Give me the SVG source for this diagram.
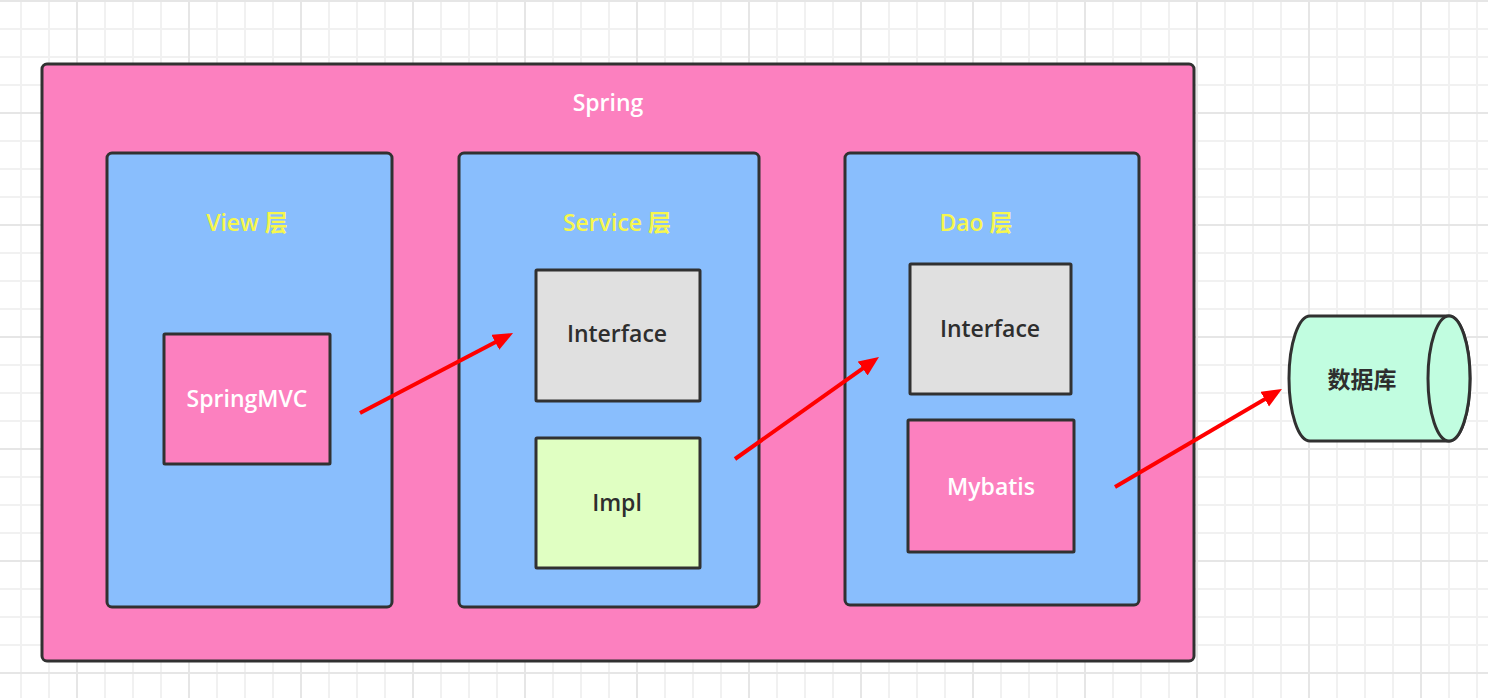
<svg xmlns="http://www.w3.org/2000/svg" width="1488" height="698" viewBox="0 0 1488 698">
<style>
.box{stroke:#313131;stroke-width:3}
.txt{font-family:"Open Sans","Noto Sans","Noto Sans CJK SC",sans-serif;font-size:23px;font-weight:600;text-anchor:middle}
.w{fill:#ffffff}
.y{fill:#f7f74e}
.d{fill:#2e2e2e}
.arrow{stroke:#ff0000;stroke-width:4;fill:none}
</style>
<defs>
<pattern id="minor" patternUnits="userSpaceOnUse" x="20" y="0" width="28" height="28">
<path d="M1,0V28M0,1H28" stroke="#f1f1f1" stroke-width="2" fill="none"/>
</pattern>
<pattern id="major" patternUnits="userSpaceOnUse" x="76" y="0" width="112" height="112">
<path d="M1,0V112M0,1H112" stroke="#e6e6e6" stroke-width="2" fill="none"/>
</pattern>
<marker id="ah" markerUnits="userSpaceOnUse" markerWidth="22" markerHeight="19" refX="8" refY="8.5" orient="auto">
<path d="M0,0L20,8.5L0,17Z" fill="#ff0000"/>
</marker>
</defs>
<rect width="1488" height="698" fill="#ffffff"/>
<rect width="1488" height="698" fill="url(#minor)"/>
<rect width="1488" height="698" fill="url(#major)"/>

<g id="spring">
<rect class="box" x="42" y="64" width="1152" height="597" rx="5" fill="#fc80bf"/>
<text class="txt w" x="608" y="111">Spring</text>
</g>
<g id="view-layer">
<rect class="box" x="107" y="153" width="285" height="454" rx="5" fill="#89befd"/>
<text class="txt y" x="247" y="231">View 层</text>
</g>
<g id="service-layer">
<rect class="box" x="459" y="153" width="300" height="454" rx="5" fill="#89befd"/>
<text class="txt y" x="617" y="231">Service 层</text>
</g>
<g id="dao-layer">
<rect class="box" x="845" y="153" width="294" height="452" rx="5" fill="#89befd"/>
<text class="txt y" x="976" y="231">Dao 层</text>
</g>
<g id="springmvc">
<rect class="box" x="164" y="334" width="166" height="130" rx="1" fill="#fc80bf"/>
<text class="txt w" x="247" y="407">SpringMVC</text>
</g>
<g id="service-interface">
<rect class="box" x="536" y="270" width="164" height="131" rx="1" fill="#e0e0e0"/>
<text class="txt d" x="617" y="342">Interface</text>
</g>
<g id="impl">
<rect class="box" x="536" y="438" width="164" height="130" rx="1" fill="#e0ffc2"/>
<text class="txt d" x="617" y="511">Impl</text>
</g>
<g id="dao-interface">
<rect class="box" x="910" y="264" width="161" height="130" rx="1" fill="#e0e0e0"/>
<text class="txt d" x="990" y="337">Interface</text>
</g>
<g id="mybatis">
<rect class="box" x="908" y="420" width="166" height="132" rx="1" fill="#fc80bf"/>
<text class="txt w" x="991" y="495">Mybatis</text>
</g>
<g id="database">
<path class="box" d="M1310,316L1449,316A21,62.5 0 0 1 1449,441L1310,441A21,62.5 0 0 1 1310,316Z" fill="#c1fde0"/>
<ellipse class="box" cx="1449" cy="378.5" rx="21" ry="62.5" fill="#c1fde0"/>
<text class="txt d" x="1362" y="388" font-family="'Noto Sans CJK SC',sans-serif" font-weight="700" font-size="22">数据库</text>
</g>
<g id="connectors">
<line class="arrow" x1="360" y1="413" x2="502.4" y2="338.6" marker-end="url(#ah)"/>
<line class="arrow" x1="735" y1="459" x2="869.2" y2="363.9" marker-end="url(#ah)"/>
<line class="arrow" x1="1115" y1="487" x2="1271.6" y2="395.1" marker-end="url(#ah)"/>
</g>
</svg>
